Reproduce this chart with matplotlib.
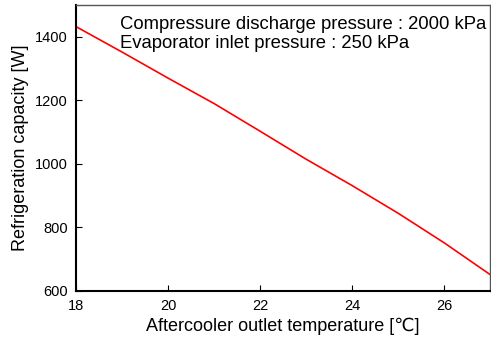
import matplotlib
matplotlib.use("Agg")
import matplotlib.pyplot as plt

temperature = [18, 19, 20, 21, 22, 23, 24, 25, 26, 27]
capacity = [1432, 1352, 1270, 1190, 1103, 1015, 932, 845, 752, 652]
xticks = [18, 20, 22, 24, 26]
yticks = [600, 800, 1000, 1200, 1400]

plt.rcParams['font.family'] = ['Liberation Sans', 'DejaVu Sans']

fig = plt.figure(figsize=(4.91, 3.39), dpi=100)
ax = fig.add_axes([76/491, 48/339, (490-76)/491, (291-5)/339])
ax.plot(temperature, capacity, color='#ff0000', lw=1.2)
ax.set_xlim(18, 27)
ax.set_ylim(600, 1500)
ax.set_xticks(xticks)
ax.set_yticks(yticks)
ax.tick_params(direction='in', length=4, labelsize=10.5, top=False, right=False, pad=6)
for s in ['left', 'bottom']:
    ax.spines[s].set_linewidth(1.5)
    ax.spines[s].set_color('black')
for s in ['top', 'right']:
    ax.spines[s].set_linewidth(1.0)
    ax.spines[s].set_color('#555555')
ax.set_xlabel('Aftercooler outlet temperature [℃]', fontsize=13, labelpad=3)
ax.set_ylabel('Refrigeration capacity [W]', fontsize=13, labelpad=4)
ax.text(0.107, 0.96, 'Compressure discharge pressure : 2000 kPa\nEvaporator inlet pressure : 250 kPa',
        transform=ax.transAxes, fontsize=13.3, va='top', ha='left', linespacing=1.1)
fig.savefig('out.png', dpi=100)
